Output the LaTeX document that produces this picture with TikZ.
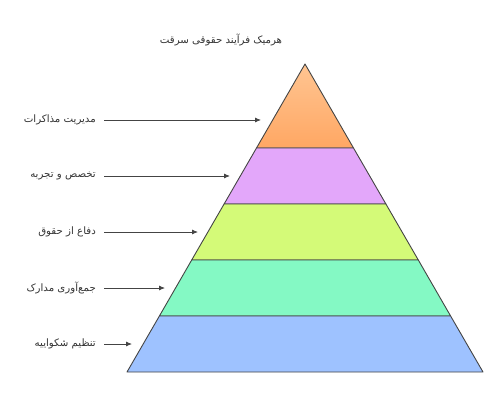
\documentclass[tikz,border=0pt]{standalone}
\usepackage{fontspec}
\usepackage{tikz}
\usetikzlibrary{arrows.meta}
\newfontfamily\arabicfont[Script=Arabic]{DejaVu Sans}
\TeXXeTstate=1
\definecolor{edgegray}{HTML}{444444}
\definecolor{topA}{HTML}{FFC592}
\definecolor{topB}{HTML}{FFA763}
\definecolor{violetlayer}{HTML}{E3A7FA}
\definecolor{limelayer}{HTML}{D4FA78}
\definecolor{mintlayer}{HTML}{84F9C4}
\definecolor{bluelayer}{HTML}{9EC2FF}
\tikzset{
	layer/.style={draw=edgegray, line width=0.9pt, line join=round},
	label/.style={anchor=east, inner sep=0pt, font=\arabicfont\fontsize{10.2}{12}\selectfont, text=black!80},
	arr/.style={-{Latex[length=6pt,width=5pt]}, draw=edgegray, line width=0.8pt}
}
\begin{document}
\begin{tikzpicture}[x=1pt,y=-1pt]
	\useasboundingbox (0,0) rectangle (500,406);

	% layers of the pyramid, top to bottom
	\draw [layer, top color=topA, bottom color=topB] (305,64) -- (353.5,148) -- (256.5,148) -- cycle;
	\draw [layer, fill=violetlayer] (256.5,148) -- (353.5,148) -- (385.9,204) -- (224.1,204) -- cycle;
	\draw [layer, fill=limelayer] (224.1,204) -- (385.9,204) -- (418.3,260) -- (191.7,260) -- cycle;
	\draw [layer, fill=mintlayer] (191.7,260) -- (418.3,260) -- (450.6,316) -- (159.4,316) -- cycle;
	\draw [layer, fill=bluelayer] (159.4,316) -- (450.6,316) -- (483,372) -- (127,372) -- cycle;

	\node (title) [anchor=center, inner sep=0pt, font=\arabicfont\fontsize{10.2}{12}\selectfont, text=black!80] at (221,40) {\beginR هرمیک فرآیند حقوقی سرقت\endR};

	\node (negot) [label] at (96,120) {\beginR مدیریت مذاکرات\endR};
	\node (exper) [label] at (96,176) {\beginR تخصص و تجربه\endR};
	\node (defen) [label] at (96,232) {\beginR دفاع از حقوق\endR};
	\node (evid) [label] at (96,288) {\beginR جمع‌آوری مدارک\endR};
	\node (compl) [label] at (96,344) {\beginR تنظیم شکواییه\endR};

	\coordinate (negotTip) at (261,120);
	\coordinate (experTip) at (230,176);
	\coordinate (defenTip) at (198,232);
	\coordinate (evidTip) at (165,288);
	\coordinate (complTip) at (132,344);

	\draw [arr] ([xshift=8pt]negot.east) -- (negotTip);
	\draw [arr] ([xshift=8pt]exper.east) -- (experTip);
	\draw [arr] ([xshift=8pt]defen.east) -- (defenTip);
	\draw [arr] ([xshift=8pt]evid.east) -- (evidTip);
	\draw [arr] ([xshift=8pt]compl.east) -- (complTip);
\end{tikzpicture}
\end{document}
